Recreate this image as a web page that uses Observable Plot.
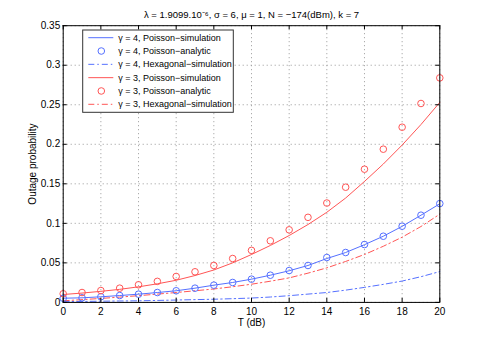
<!DOCTYPE html>
<html>
<head>
<meta charset="utf-8">
<script src="https://cdn.jsdelivr.net/npm/d3@7"></script>
<script src="https://cdn.jsdelivr.net/npm/@observablehq/plot@0.6"></script>
<style>
  html, body { margin: 0; padding: 0; background: white; }
</style>
</head>
<body>
<script>
// ---- data ----
const T = [0,1,2,3,4,5,6,7,8,9,10,11,12,13,14,15,16,17,18,19,20];
const xTicks = [0,2,4,6,8,10,12,14,16,18,20];
const yTicks = [0,0.05,0.1,0.15,0.2,0.25,0.3,0.35];

const g4PoissonSim = [0.0053,0.0058,0.0071,0.0087,0.0104,0.0125,0.0147,0.0180,0.0218,0.0252,0.0294,0.0344,0.0400,0.0467,0.0555,0.0631,0.0730,0.0837,0.0962,0.1103,0.1247];
const g4PoissonAna = [0.0053,0.0058,0.0071,0.0087,0.0104,0.0125,0.0147,0.0180,0.0218,0.0252,0.0294,0.0344,0.0403,0.0467,0.0568,0.0631,0.0732,0.0837,0.0964,0.1103,0.1250];
const g4HexSim     = [0.0010,0.0012,0.0015,0.0018,0.0020,0.0025,0.0030,0.0035,0.0040,0.0047,0.0055,0.0068,0.0085,0.0105,0.0125,0.0155,0.0190,0.0228,0.0270,0.0325,0.0390];
const g3PoissonSim = [0.0100,0.0118,0.0140,0.0165,0.0197,0.0235,0.0280,0.0340,0.0410,0.0500,0.0606,0.0720,0.0846,0.0985,0.1140,0.1320,0.1530,0.1750,0.1990,0.2250,0.2530];
const g3PoissonAna = [0.0109,0.0125,0.0150,0.0180,0.0223,0.0266,0.0328,0.0387,0.0467,0.0555,0.0658,0.0779,0.0918,0.1076,0.1257,0.1457,0.1685,0.1938,0.2216,0.2516,0.2840];
const g3HexSim     = [0.0020,0.0035,0.0050,0.0067,0.0085,0.0105,0.0125,0.0147,0.0170,0.0198,0.0230,0.0268,0.0310,0.0370,0.0437,0.0518,0.0606,0.0710,0.0825,0.0960,0.1116];

const titleText = "λ = 1.9099.10⁻⁶, σ = 6, μ = 1, N = −174(dBm), k = 7";
const xLabel = "T (dB)";
const yLabel = "Outage probability";
const legendLabels = [
  "γ = 4, Poisson−simulation",
  "γ = 4, Poisson−analytic",
  "γ = 4, Hexagonal−simulation",
  "γ = 3, Poisson−simulation",
  "γ = 3, Poisson−analytic",
  "γ = 3, Hexagonal−simulation"
];

// ---- styles ----
const BLUE = "#5570ff", RED = "#ff5555";
const DASHDOT = "6,3,1.5,3";
const W = 485, H = 340, mL = 62.7, mR = 45.7, mT = 25.2, mB = 38.1;
const pw = W - mL - mR, ph = H - mT - mB;

const rows = (ys) => T.map((t, i) => ({t, v: ys[i]}));

const chart = Plot.plot({
  width: W, height: H,
  marginLeft: mL, marginRight: mR, marginTop: mT, marginBottom: mB,
  x: {domain: [0, 20]},
  y: {domain: [0, 0.35]},
  style: {fontFamily: "'Liberation Sans', Arial, sans-serif", fontSize: "10px", background: "white", color: "black"},
  marks: [
    Plot.gridX(xTicks, {stroke: "#999", strokeOpacity: 1, strokeDasharray: "1,3"}),
    Plot.gridY(yTicks, {stroke: "#999", strokeOpacity: 1, strokeDasharray: "1,3"}),
    Plot.line(rows(g4HexSim), {x: "t", y: "v", stroke: BLUE, strokeWidth: 1, strokeDasharray: DASHDOT}),
    Plot.line(rows(g3HexSim), {x: "t", y: "v", stroke: RED, strokeWidth: 1, strokeDasharray: DASHDOT}),
    Plot.line(rows(g4PoissonSim), {x: "t", y: "v", stroke: BLUE, strokeWidth: 1}),
    Plot.line(rows(g3PoissonSim), {x: "t", y: "v", stroke: RED, strokeWidth: 1}),
    Plot.dot(rows(g4PoissonAna), {x: "t", y: "v", stroke: BLUE, r: 3.3, strokeWidth: 1}),
    Plot.dot(rows(g3PoissonAna), {x: "t", y: "v", stroke: RED, r: 3.3, strokeWidth: 1}),
    Plot.frame({stroke: "black"}),
    Plot.tickX(xTicks, {x: d => d, stroke: "black", insetTop: ph - 4}),
    Plot.tickX(xTicks, {x: d => d, stroke: "black", insetBottom: ph - 4}),
    Plot.tickY(yTicks, {y: d => d, stroke: "black", insetRight: pw - 4}),
    Plot.tickY(yTicks, {y: d => d, stroke: "black", insetLeft: pw - 4}),
    Plot.axisX(xTicks, {tickSize: 0, tickPadding: 5, label: xLabel, labelAnchor: "center", labelArrow: "none", labelOffset: 24}),
    Plot.axisY(yTicks, {tickSize: 0, tickPadding: 3, tickFormat: d => String(d), label: yLabel, labelAnchor: "center", labelArrow: "none", labelOffset: 34}),
    Plot.text([titleText], {text: d => d, frameAnchor: "top", dy: -11, lineAnchor: "middle", fontSize: 9.5})
  ]
});
document.body.appendChild(chart);

// ---- legend ----
const svg = d3.select(chart);
const lg = svg.append("g")
  .attr("font-family", "'Liberation Sans', Arial, sans-serif")
  .attr("font-size", 9)
  .attr("text-anchor", "start");
const lx = 82.7, ly = 30, lw = 150.6, lh = 82.3;
lg.append("rect").attr("x", lx).attr("y", ly).attr("width", lw).attr("height", lh)
  .attr("fill", "white").attr("stroke", "#333").attr("stroke-width", 1);
const styles = [
  {c: BLUE, type: "line"}, {c: BLUE, type: "dot"}, {c: BLUE, type: "dash"},
  {c: RED, type: "line"}, {c: RED, type: "dot"}, {c: RED, type: "dash"}
];
legendLabels.forEach((lab, i) => {
  const y = 37.7 + 13.32 * i;
  const s = styles[i];
  if (s.type === "dot") {
    lg.append("circle").attr("cx", 101.3).attr("cy", y).attr("r", 3.3).attr("fill", "none").attr("stroke", s.c);
  } else {
    lg.append("line").attr("x1", 88.3).attr("x2", 113.3).attr("y1", y).attr("y2", y)
      .attr("stroke", s.c).attr("stroke-width", 1).attr("stroke-dasharray", s.type === "dash" ? DASHDOT : null);
  }
  lg.append("text").attr("x", 118.3).attr("y", y).attr("dy", "0.35em")
    .attr("text-anchor", "start").attr("fill", "black").text(lab);
});
</script>
</body>
</html>
